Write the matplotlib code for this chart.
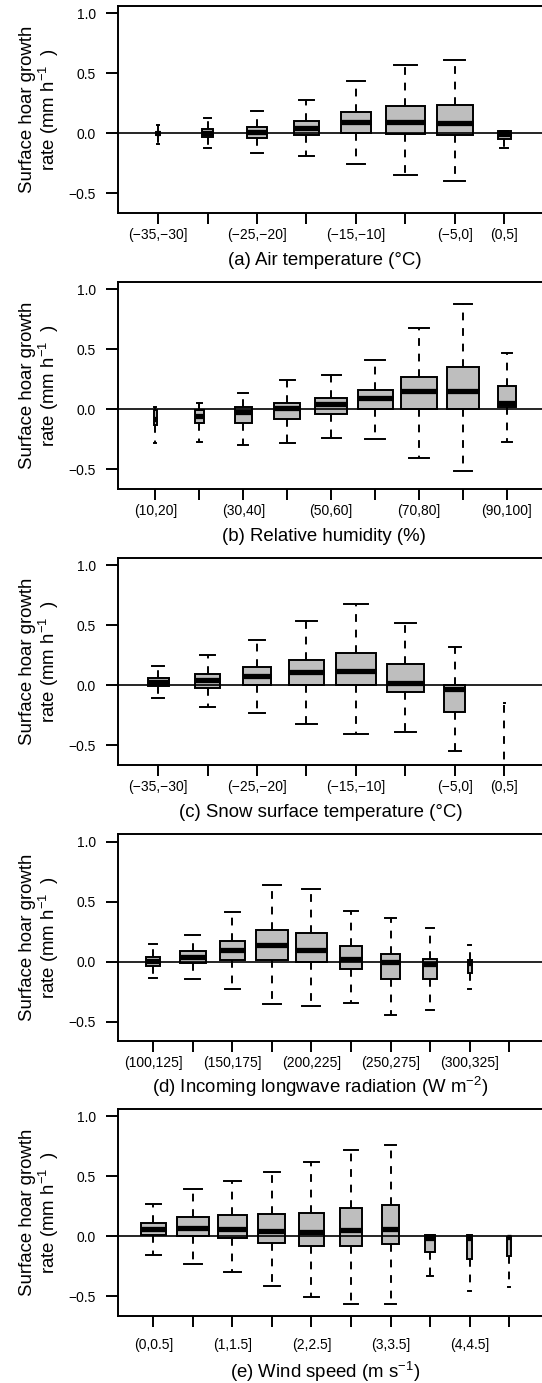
import numpy as np
import matplotlib.pyplot as plt

plt.rcParams['font.family'] = ['Liberation Sans', 'DejaVu Sans']
plt.rcParams['mathtext.fontset'] = 'custom'
plt.rcParams['mathtext.rm'] = 'Liberation Sans'
plt.rcParams['mathtext.it'] = 'Liberation Sans:italic'
plt.rcParams['mathtext.default'] = 'regular'

# (a) Temperatura del aire
air_cats = ['(−35,−30]', '(−30,−25]', '(−25,−20]', '(−20,−15]',
            '(−15,−10]', '(−10,−5]', '(−5,0]', '(0,5]']
air_shown = [1, 0, 1, 0, 1, 0, 1, 1]
air_lo = [-0.09, -0.122, -0.167, -0.186, -0.258, -0.35, -0.397, -0.12]
air_q1 = [-0.012, -0.028, -0.036, -0.014, 0.0, -0.006, -0.017, -0.05]
air_med = [0.0, 0.0, 0.01, 0.042, 0.092, 0.097, 0.086, -0.008]
air_q3 = [0.012, 0.033, 0.056, 0.103, 0.175, 0.225, 0.233, 0.019]
air_hi = [0.07, 0.128, 0.183, 0.278, 0.439, 0.572, 0.611, 0.019]
air_w = [0.07, 0.23, 0.41, 0.51, 0.62, 0.80, 0.73, 0.27]

# (b) Humedad relativa
rh_cats = ['(10,20]', '(20,30]', '(30,40]', '(40,50]', '(50,60]',
           '(60,70]', '(70,80]', '(80,90]', '(90,100]']
rh_shown = [1, 0, 1, 0, 1, 0, 1, 0, 1]
rh_lo = [-0.283, -0.272, -0.297, -0.278, -0.239, -0.244, -0.408, -0.514, -0.275]
rh_q1 = [-0.13, -0.117, -0.111, -0.083, -0.042, 0.0, 0.0, 0.0, 0.017]
rh_med = [-0.08, -0.055, -0.02, 0.014, 0.042, 0.092, 0.153, 0.15, 0.056]
rh_q3 = [-0.006, -0.006, 0.022, 0.05, 0.092, 0.164, 0.272, 0.353, 0.192]
rh_hi = [0.017, 0.056, 0.139, 0.242, 0.289, 0.408, 0.681, 0.881, 0.472]
rh_w = [0.08, 0.21, 0.39, 0.59, 0.74, 0.80, 0.80, 0.72, 0.42]

# (c) Temperatura de la superficie de nieve
sst_cats = air_cats
sst_shown = [1, 0, 1, 0, 1, 0, 1, 1]
sst_lo = [-0.106, -0.178, -0.228, -0.322, -0.408, -0.392, -0.547, -1.3]
sst_q1 = [-0.006, -0.019, 0.0, 0.0, 0.0, -0.056, -0.222, -0.95]
sst_med = [0.03, 0.044, 0.078, 0.108, 0.119, 0.019, -0.03, -0.85]
sst_q3 = [0.064, 0.094, 0.15, 0.214, 0.269, 0.178, 0.0, -0.75]
sst_hi = [0.158, 0.253, 0.375, 0.539, 0.678, 0.517, 0.322, -0.15]
sst_w = [0.42, 0.52, 0.57, 0.70, 0.81, 0.74, 0.43, 0.04]

# (d) Radiación de onda larga
lw_cats = ['(100,125]', '(125,150]', '(150,175]', '(175,200]', '(200,225]',
           '(225,250]', '(250,275]', '(275,300]', '(300,325]', '(325,350]']
lw_shown = [1, 0, 1, 0, 1, 0, 1, 0, 1, 0]
lw_lo = [-0.139, -0.147, -0.225, -0.356, -0.367, -0.347, -0.442, -0.406, -0.231]
lw_q1 = [-0.033, -0.008, 0.014, 0.014, 0.0, -0.058, -0.142, -0.147, -0.097]
lw_med = [0.008, 0.042, 0.094, 0.136, 0.094, 0.022, 0.0, -0.019, -0.014]
lw_q3 = [0.042, 0.086, 0.172, 0.264, 0.242, 0.133, 0.061, 0.022, 0.014]
lw_hi = [0.15, 0.222, 0.414, 0.636, 0.603, 0.422, 0.361, 0.283, 0.139]
lw_w = [0.36, 0.66, 0.64, 0.81, 0.78, 0.57, 0.48, 0.36, 0.10]

# (e) Velocidad del viento
ws_cats = ['(0,0.5]', '(0.5,1]', '(1,1.5]', '(1.5,2]', '(2,2.5]',
           '(2.5,3]', '(3,3.5]', '(3.5,4]', '(4,4.5]', '(4.5,5]']
ws_shown = [1, 0, 1, 0, 1, 0, 1, 0, 1, 0]
ws_lo = [-0.153, -0.231, -0.3, -0.411, -0.503, -0.561, -0.564, -0.333, -0.453, -0.422]
ws_q1 = [0.008, 0.0, -0.017, -0.056, -0.081, -0.078, -0.067, -0.133, -0.186, -0.169]
ws_med = [0.061, 0.069, 0.061, 0.042, 0.033, 0.05, 0.064, -0.011, -0.011, -0.01]
ws_q3 = [0.111, 0.158, 0.175, 0.181, 0.197, 0.236, 0.264, 0.008, 0.008, -0.006]
ws_hi = [0.269, 0.392, 0.458, 0.531, 0.619, 0.717, 0.758, 0.008, 0.008, -0.006]
ws_w = [0.63, 0.80, 0.74, 0.68, 0.63, 0.57, 0.45, 0.245, 0.14, 0.09]

yticks = [-0.5, 0.0, 0.5, 1.0]

W, H = 542, 1383
fig = plt.figure(figsize=(W / 100, H / 100), dpi=100)

ax_left = 117.7
ax_width = 427.0
ax_height = 207.4
tops = [5.6, 281.6, 557.6, 834.0, 1108.5]


def panel(top, cats, shown, lo, q1, med, q3, hi, w, xlabel, xlab_x, xlab_y, tick_pad):
    ax = fig.add_axes([ax_left / W, 1 - (top + ax_height) / H, ax_width / W, ax_height / H])
    n = len(cats)
    stats = []
    for i in range(len(lo)):
        stats.append(dict(whislo=lo[i], q1=q1[i], med=med[i], q3=q3[i],
                          whishi=hi[i], fliers=[]))
    pos = list(range(1, len(lo) + 1))
    ax.bxp(stats, positions=pos, widths=w, capwidths=[0.58 * x for x in w],
           patch_artist=True, showfliers=False, manage_ticks=False,
           boxprops=dict(facecolor='#bebebe', edgecolor='black', linewidth=1.4),
           medianprops=dict(color='black', linewidth=3.8, solid_capstyle='butt'),
           whiskerprops=dict(color='black', linewidth=1.4, linestyle=(0, (4.0, 4.0))),
           capprops=dict(color='black', linewidth=1.4))
    ax.axhline(0, color='black', lw=1.2, zorder=3)
    ax.set_xlim(0.5 - 0.04 * n, n + 0.5 + 0.04 * n)
    ax.set_ylim(-0.664, 1.064)
    ax.set_xticks(range(1, n + 1))
    ax.set_xticklabels([c if s else '' for c, s in zip(cats, shown)])
    ax.set_yticks(yticks)
    ax.tick_params(axis='y', length=8.5, width=1.4, labelsize=10, pad=7)
    ax.tick_params(axis='x', length=7.7, width=1.4, labelsize=10, pad=tick_pad)
    for s in ax.spines.values():
        s.set_linewidth(1.4)
    ax.text(xlab_x, xlab_y, xlabel, transform=ax.transAxes, ha='center',
            va='baseline', fontsize=13.4)
    ax.text(-0.2014, 0.5, 'Surface hoar growth', transform=ax.transAxes,
            rotation=90, rotation_mode='anchor', ha='center', va='baseline',
            fontsize=13.4)
    ax.text(-0.1468, 0.5, 'rate (mm h$^{-1}$  )', transform=ax.transAxes,
            rotation=90, rotation_mode='anchor', ha='center', va='baseline',
            fontsize=13.4)
    return ax


panel(tops[0], air_cats, air_shown, air_lo, air_q1, air_med, air_q3, air_hi, air_w,
      '(a) Air temperature (°C)', 0.486, -0.251, 3)
panel(tops[1], rh_cats, rh_shown, rh_lo, rh_q1, rh_med, rh_q3, rh_hi, rh_w,
      '(b) Relative humidity (%)', 0.484, -0.251, 3)
panel(tops[2], sst_cats, sst_shown, sst_lo, sst_q1, sst_med, sst_q3, sst_hi, sst_w,
      '(c) Snow surface temperature (°C)', 0.475, -0.251, 3)
panel(tops[3], lw_cats, lw_shown, lw_lo, lw_q1, lw_med, lw_q3, lw_hi, lw_w,
      '(d) Incoming longwave radiation (W m$^{-2}$)', 0.473, -0.251, 3)
panel(tops[4], ws_cats, ws_shown, ws_lo, ws_q1, ws_med, ws_q3, ws_hi, ws_w,
      '(e) Wind speed (m s$^{-1}$)', 0.485, -0.299, 8)

fig.savefig('out.png', dpi=100)
